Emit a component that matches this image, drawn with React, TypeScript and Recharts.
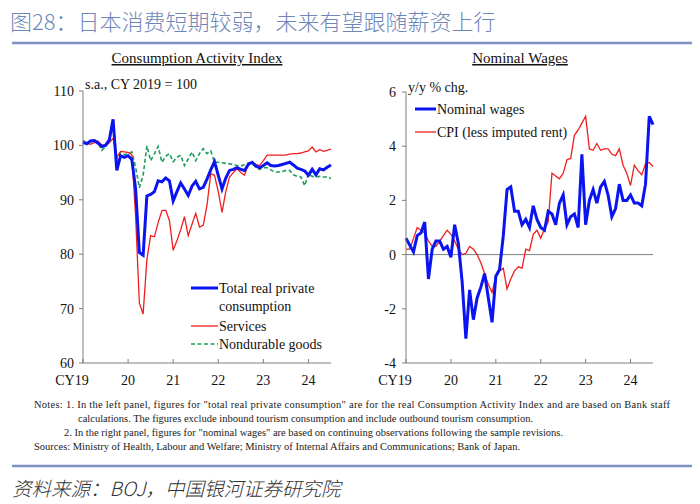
import { LineChart, Line, XAxis, YAxis, ReferenceLine } from 'recharts';

// months since Jan 2019 (0 = Jan 2019, 66 = Jul 2024)
const months = Array.from({ length: 67 }, (_, i) => i);
const yearTicks = [0, 12, 24, 36, 48, 60];
const yearLabels = ['CY19', '20', '21', '22', '23', '24'];

// left panel, s.a., CY2019 = 100
const totalConsumption = [
  100.6, 100.3, 100.8, 100.9, 100.4, 99.8, 100.0, 101.0, 104.8, 95.4, 98.1, 97.8,
  98.1, 97.4, 92.0, 80.3, 79.8, 90.7, 91.0, 91.5, 93.5, 93.3, 94.0, 93.5,
  89.8, 91.5, 93.1, 92.0, 90.8, 92.5, 93.4, 92.0, 92.3, 93.8, 95.5, 97.0,
  94.5, 92.0, 94.0, 95.4, 95.6, 95.9, 95.6, 95.4, 96.5, 96.9, 96.2, 95.9,
  96.3, 96.8, 96.3, 96.2, 96.3, 96.5, 96.7, 96.9, 96.4, 95.8, 95.6, 95.3,
  94.5, 95.6, 94.6, 95.7, 95.5, 96.0, 96.4,
];
const services = [
  100.3, 100.4, 100.2, 100.5, 100.8, 100.1, 100.0, 100.5, 101.3, 97.9, 98.9, 98.8,
  98.7, 98.3, 87.0, 71.0, 69.0, 79.0, 83.4, 83.2, 85.8, 88.0, 88.1, 86.2,
  80.7, 82.5, 84.5, 86.9, 83.4, 85.5, 87.5, 85.0, 85.3, 89.0, 94.8, 94.5,
  91.5, 87.7, 91.5, 94.2, 95.0, 95.7, 95.0, 94.5, 96.6, 96.8, 96.5, 96.3,
  97.2, 98.2, 98.2, 98.2, 98.2, 98.2, 98.2, 98.4, 98.5, 98.5, 98.6, 98.8,
  99.0, 99.7, 98.8, 99.2, 98.9, 99.1, 99.3,
];
const nondurables = [
  100.9, 100.4, 100.6, 101.0, 100.6, 99.1, 99.8, 100.6, 104.2, 97.5, 98.6, 98.3,
  98.5, 98.8, 96.0, 92.2, 94.5, 99.9, 97.2, 98.5, 99.8, 96.9, 98.0, 98.5,
  97.0, 97.8, 98.2, 96.3, 97.5, 98.8, 97.2, 98.5, 99.4, 98.5, 99.0, 96.9,
  96.9, 96.8, 96.7, 96.6, 96.5, 96.3, 96.2, 96.5, 96.8, 96.6, 96.0, 95.6,
  95.9, 95.9, 95.5, 95.1, 95.1, 95.2, 95.4, 95.4, 94.6, 94.3, 94.2, 92.6,
  94.8, 94.3, 94.2, 94.3, 94.2, 94.2, 93.9,
];
const leftTicks = [60, 70, 80, 90, 100, 110];

// right panel, y/y % chg.
const nominalWages = [
  0.6, 0.35, 0.1, 0.7, 0.8, 1.2, -0.9, 0.2, 0.5, 0.5, 0.2, 0.3,
  -0.1, 1.1, 0.4, -1.0, -3.1, -1.3, -2.4, -1.6, -1.2, -0.7, -1.6, -2.5,
  -0.8, -0.55, 0.7, 2.4, 2.5, 1.6, 1.6, 1.1, 1.3, 1.0, 1.8, 1.3,
  1.0, 0.9, 1.6, 1.5, 1.1, 1.9, 2.2, 1.1, 1.4, 1.5, 1.0, 3.7,
  1.1, 2.0, 2.4, 1.9, 2.5, 2.7, 2.2, 1.4, 1.7, 2.6, 2.0, 2.0,
  2.2, 1.9, 1.9, 1.8, 2.6, 5.1, 4.8,
];
const cpiLessRent = [
  0.2, 0.2, 0.6, 1.0, 0.9, 0.8, 0.5, 0.3, 0.3, 0.5, 0.7, 0.9,
  0.75, 0.5, 0.2, 0.0, 0.05, 0.3, 0.2, 0.0, -0.3, -0.7, -1.1, -1.4,
  -0.8, -0.6, -0.5, -1.27, -0.9, -0.6, -0.45, -0.5, 0.2, 0.15, 0.75, 0.9,
  0.6, 0.95, 1.2, 3.0, 2.9, 2.8, 3.0, 3.5, 3.55, 4.4, 4.6, 4.85,
  5.1, 3.9, 3.85, 4.1, 3.85, 3.9, 3.9, 3.7, 3.65, 3.9, 3.3, 3.0,
  2.55, 3.3, 3.1, 2.95, 3.35, 3.4, 3.25,
];
const rightTicks = [-4, -2, 0, 2, 4, 6];

const leftData = months.map((m, i) => ({
  m,
  total: totalConsumption[i],
  services: services[i],
  goods: nondurables[i],
}));
const rightData = months.map((m, i) => ({ m, wages: nominalWages[i], cpi: cpiLessRent[i] }));

const serif = '"Liberation Serif", "Times New Roman", serif';
const axisGray = '#7f7f7f';
const BLUE = '#0a14f0';
const RED = '#f01e1e';
const GREEN = '#1e9e5a';

const XTick = (props: any) => {
  const { x, y, payload } = props;
  const idx = yearTicks.indexOf(payload.value);
  const label = yearLabels[idx] ?? '';
  return (
    <g>
      <line x1={x} x2={x} y1={y} y2={y - 4} stroke={axisGray} />
      <text x={idx === 0 ? x - 11 : x} y={y + 22} textAnchor="middle" fontSize={14} fill="#111" fontFamily={serif}>
        {label}
      </text>
    </g>
  );
};

const yTickStyle = { fontSize: 14, fill: '#111', fontFamily: serif };

export default function App() {
  return (
    <div style={{ position: 'absolute', left: 0, top: 0, width: 700, height: 504, background: '#fff', overflow: 'hidden' }}>
      <div style={{ position: 'absolute', left: 0, top: 0 }}>
        <LineChart width={350} height={400} data={leftData} margin={{ top: 91, right: 19, left: 0, bottom: 0 }}>
          <XAxis
            type="number"
            dataKey="m"
            domain={[0, 66]}
            ticks={yearTicks}
            height={37}
            tickSize={0}
            tickMargin={0}
            tick={<XTick />}
            stroke={axisGray}
          />
          <YAxis
            domain={[60, 110]}
            ticks={leftTicks}
            width={83}
            tickSize={4}
            tickMargin={5}
            tick={yTickStyle}
            stroke={axisGray}
          />
          <Line dataKey="goods" stroke={GREEN} strokeWidth={1.6} strokeDasharray="4 2.5" dot={false} isAnimationActive={false} />
          <Line dataKey="services" stroke={RED} strokeWidth={1.3} dot={false} isAnimationActive={false} />
          <Line dataKey="total" stroke={BLUE} strokeWidth={3} dot={false} isAnimationActive={false} />
        </LineChart>
      </div>
      <div style={{ position: 'absolute', left: 350, top: 0 }}>
        <LineChart width={350} height={400} data={rightData} margin={{ top: 92, right: 47, left: 0, bottom: 0 }}>
          <XAxis
            type="number"
            dataKey="m"
            domain={[0, 66]}
            ticks={yearTicks}
            height={37}
            tickSize={0}
            tickMargin={0}
            tick={<XTick />}
            stroke={axisGray}
          />
          <YAxis
            domain={[-4, 6]}
            ticks={rightTicks}
            width={56}
            tickSize={4}
            tickMargin={6}
            tick={yTickStyle}
            stroke={axisGray}
          />
          <ReferenceLine y={0} stroke={axisGray} strokeWidth={1} />
          <Line dataKey="cpi" stroke={RED} strokeWidth={1.3} dot={false} isAnimationActive={false} />
          <Line dataKey="wages" stroke={BLUE} strokeWidth={3} dot={false} isAnimationActive={false} />
        </LineChart>
      </div>

      <svg width={700} height={504} style={{ position: 'absolute', left: 0, top: 0, pointerEvents: 'none' }}>
        <text x={10} y={30} fontSize={22} fill="#6f87b8" fontFamily='"Noto Sans CJK SC", sans-serif' fontWeight={300}>
          图28：日本消费短期较弱，未来有望跟随薪资上行
        </text>
        <line x1={12} x2={692} y1={43} y2={43} stroke="#7d91c0" strokeWidth={2.5} />

        {/* panel titles */}
        <text x={197} y={63} textAnchor="middle" fontSize={15} fontFamily={serif} fill="#111" textDecoration="underline">
          Consumption Activity Index
        </text>
        <text x={520} y={63} textAnchor="middle" fontSize={15} fontFamily={serif} fill="#111" textDecoration="underline">
          Nominal Wages
        </text>
        <text x={85} y={89} fontSize={14} fontFamily={serif} fill="#111">s.a., CY 2019 = 100</text>
        <text x={408} y={92} fontSize={14} fontFamily={serif} fill="#111">y/y % chg.</text>

        {/* left legend */}
        <line x1={191} x2={218} y1={288} y2={288} stroke={BLUE} strokeWidth={3} />
        <text x={219} y={293} fontSize={14} fontFamily={serif} fill="#111">Total real private</text>
        <text x={219} y={311} fontSize={14} fontFamily={serif} fill="#111">consumption</text>
        <line x1={191} x2={218} y1={326} y2={326} stroke={RED} strokeWidth={1.3} />
        <text x={219} y={331} fontSize={14} fontFamily={serif} fill="#111">Services</text>
        <line x1={191} x2={218} y1={344} y2={344} stroke={GREEN} strokeWidth={1.6} strokeDasharray="4 2.5" />
        <text x={219} y={349} fontSize={14} fontFamily={serif} fill="#111">Nondurable goods</text>

        {/* right legend */}
        <line x1={415} x2={436} y1={109} y2={109} stroke={BLUE} strokeWidth={3} />
        <text x={437} y={114} fontSize={14} fontFamily={serif} fill="#111">Nominal wages</text>
        <line x1={415} x2={436} y1={132} y2={132} stroke={RED} strokeWidth={1.3} />
        <text x={437} y={137} fontSize={14} fontFamily={serif} fill="#111">CPI (less imputed rent)</text>

        {/* notes */}
        <g fontSize={10.5} fontFamily={serif} fill="#222">
          <text x={34} y={408} textLength={636} lengthAdjust="spacing">
            Notes: 1. In the left panel, figures for "total real private consumption" are for the real Consumption Activity Index and are based on Bank staff
          </text>
          <text x={78} y={422}>
            calculations. The figures exclude inbound tourism consumption and include outbound tourism consumption.
          </text>
          <text x={64} y={436}>
            2. In the right panel, figures for "nominal wages" are based on continuing observations following the sample revisions.
          </text>
          <text x={34} y={450}>
            Sources: Ministry of Health, Labour and Welfare; Ministry of Internal Affairs and Communications; Bank of Japan.
          </text>
        </g>

        <line x1={12} x2={692} y1={466} y2={466} stroke="#7d91c0" strokeWidth={2.5} />
        <text x={12} y={496} fontSize={19.5} fill="#333" fontStyle="italic" fontFamily='"Noto Sans CJK SC", sans-serif' fontWeight={300}>
          资料来源：BOJ，中国银河证券研究院
        </text>
      </svg>
    </div>
  );
}
